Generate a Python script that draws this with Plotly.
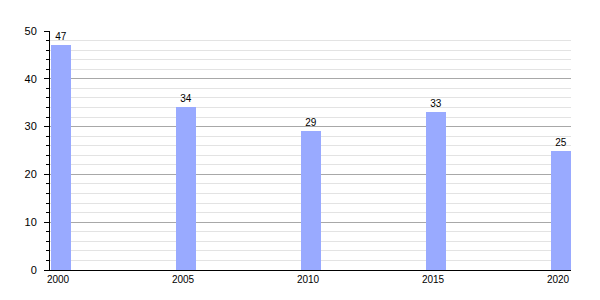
import plotly.graph_objects as go

years = [2000, 2005, 2010, 2015, 2020]
values = [47, 34, 29, 33, 25]
y_ticks = [0, 10, 20, 30, 40, 50]

fig = go.Figure()
fig.add_trace(go.Bar(
    x=years, y=values, width=0.8,
    marker=dict(color="#99aaff", line=dict(width=0)),
    text=[str(v) for v in values], textposition="outside",
    textfont=dict(size=10, color="#000000"),
    cliponaxis=False,
))
fig.update_layout(
    width=600, height=300,
    margin=dict(l=50, r=29, t=31, b=30),
    paper_bgcolor="white", plot_bgcolor="white",
    font=dict(family="Liberation Sans, Arial, sans-serif", size=10, color="#000000"),
    showlegend=False,
    bargap=0,
)
fig.update_xaxes(
    range=[1999.56, 2020.4], tickvals=years, ticktext=[str(y) for y in years],
    showgrid=False, showline=True, linecolor="#000000", linewidth=1,
    ticks="", zeroline=False, tickfont=dict(size=10), ticklabelshift=-3,
)
fig.update_yaxes(
    range=[0, 50], tickvals=y_ticks, showline=True, linecolor="#000000", linewidth=1,
    ticks="outside", ticklen=5, tickcolor="#000000", ticklabelstandoff=5,
    showgrid=True, gridcolor="#a8a8a8", gridwidth=1, zeroline=False,
    minor=dict(dtick=2, tick0=0, ticks="outside", ticklen=3, tickcolor="#000000",
               showgrid=True, gridcolor="#e3e3e3", gridwidth=1),
    tickfont=dict(size=11),
)
fig.write_html("out.html")
